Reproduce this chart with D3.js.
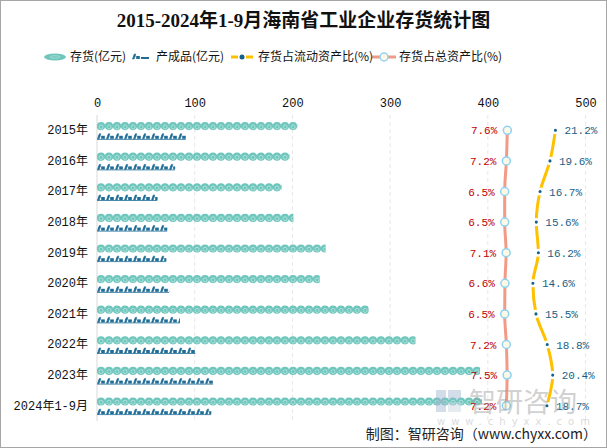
<!DOCTYPE html>
<html>
<head>
<meta charset="utf-8">
<script src="https://cdn.jsdelivr.net/npm/d3@7"></script>
<style>
  body { margin: 0; background: #fff; }
  text { font-family: "Liberation Mono", "Noto Sans CJK SC", monospace; }
</style>
</head>
<body>
<div id="chart"></div>
<script>
//-- data
const categories = ["2015年", "2016年", "2017年", "2018年", "2019年", "2020年", "2021年", "2022年", "2023年", "2024年1-9月"];
const inventory = [205, 197, 189, 201, 234, 228, 278, 326, 392, 394]; // 存货(亿元)
const finished = [91, 80, 62, 72, 71, 74, 85, 101, 119, 117]; // 产成品(亿元)
const currentRatio = [21.2, 19.6, 16.7, 15.6, 16.2, 14.6, 15.5, 18.8, 20.4, 18.7]; // 存货占流动资产比(%)
const totalRatio = [7.6, 7.2, 6.5, 6.5, 7.1, 6.6, 6.5, 7.2, 7.5, 7.2]; // 存货占总资产比(%)
const xTicks = [0, 100, 200, 300, 400, 500];
const legendNames = ["存货(亿元)", "产成品(亿元)", "存货占流动资产比(%)", "存货占总资产比(%)"];

//-- dimensions
const width = 607, height = 448;
const plot = { left: 97, right: 585.5, top: 115, bottom: 421 };

//-- colours
const teal = "#6fc6bd", tealLight = "#b4e4df", iconBlue = "#1f6c96";
const yellow = "#ffc000", salmon = "#f19b86", dotBlue = "#14628c";
const redLabel = "#c00000", blueLabel = "#1b5f86";

const svg = d3.select("#chart").append("svg")
  .attr("width", width).attr("height", height);

//-- scales
const x = d3.scaleLinear().domain([0, 500]).range([plot.left, plot.right]);
const y = d3.scaleBand().domain(categories).range([plot.top, plot.bottom]);
const bw = y.bandwidth();
const xCurrent = d3.scaleLinear().domain([0, 30]).range([483, plot.right]);
const xTotal = d3.scaleLinear().domain([0, 40]).range([489, plot.right]);

//-- title
svg.append("text")
  .attr("x", width / 2).attr("y", 27)
  .attr("text-anchor", "middle")
  .style("font-family", "'Liberation Serif', 'Noto Sans CJK SC', serif")
  .style("font-size", "19px").style("font-weight", "bold").attr("fill", "#111")
  .text("2015-2024年1-9月海南省工业企业存货统计图");

//-- grid
svg.append("g").selectAll("line")
  .data(xTicks.slice(1)).join("line")
  .attr("x1", (d) => x(d)).attr("x2", (d) => x(d))
  .attr("y1", plot.top).attr("y2", plot.bottom)
  .attr("stroke", "#e8e8e8").attr("stroke-dasharray", "4,3");
svg.append("line")
  .attr("x1", x(0)).attr("x2", x(0)).attr("y1", plot.top).attr("y2", plot.bottom)
  .attr("stroke", "#d9d9d9");

//-- axes
const xAxis = svg.append("g")
  .attr("transform", `translate(0,107)`)
  .call(d3.axisTop(x).tickValues(xTicks).tickSize(0).tickPadding(0));
xAxis.select(".domain").remove();
xAxis.selectAll("text").style("font-size", "12px").attr("fill", "#111")
  .style("font-family", "'Liberation Mono', monospace");

const yAxis = svg.append("g")
  .attr("transform", `translate(${plot.left},0)`)
  .call(d3.axisLeft(y).tickSize(0).tickPadding(9));
yAxis.select(".domain").remove();
yAxis.selectAll("text").style("font-size", "12px").attr("fill", "#111");

//-- symbols
function coin(g, cx, cy, r) {
  g.append("circle").attr("cx", cx).attr("cy", cy).attr("r", r).attr("fill", teal);
  g.append("path")
    .attr("d", `M${cx - r * 0.5},${cy + r * 0.2} a${r * 0.5},${r * 0.5} 0 1 1 ${r},0 a${r * 0.45},${r * 0.45} 0 0 1 -${r * 0.9},0.2`)
    .attr("fill", "none").attr("stroke", tealLight).attr("stroke-width", 0.9);
}
function icon(g, ix, iy) {
  g.append("path")
    .attr("d", `M${ix + 0.5},${iy + 5} L${ix + 2.3},${iy} L${ix + 3.8},${iy} L${ix + 2.2},${iy + 5} Z M${ix + 1},${iy + 2.2} L${ix + 3.6},${iy + 2.2}`)
    .attr("fill", iconBlue).attr("stroke", iconBlue).attr("stroke-width", 0.6);
  g.append("rect").attr("x", ix + 4.2).attr("y", iy + 2).attr("width", 3.6).attr("height", 3)
    .attr("fill", iconBlue);
}

//-- bars
const defs = svg.append("defs");
categories.forEach((c, i) => {
  const cy = y(c) + bw / 2;
  // inventory coins
  const w1 = x(inventory[i]) - x(0);
  defs.append("clipPath").attr("id", "clipA" + i)
    .append("rect").attr("x", x(0)).attr("y", cy - 9).attr("width", w1).attr("height", 10);
  const gA = svg.append("g").attr("clip-path", `url(#clipA${i})`);
  const step = 8;
  for (let k = 0; k * step < w1; k++) coin(gA, x(0) + step / 2 + k * step, cy - 4.2, 4.1);
  // finished goods icons
  const w2 = x(finished[i]) - x(0);
  defs.append("clipPath").attr("id", "clipB" + i)
    .append("rect").attr("x", x(0)).attr("y", cy + 2).attr("width", w2).attr("height", 8);
  const gB = svg.append("g").attr("clip-path", `url(#clipB${i})`);
  for (let k = 0; k * 9 < w2; k++) icon(gB, x(0) + k * 9, cy + 3.5);
  gB.append("rect").attr("x", x(0)).attr("y", cy + 8.6).attr("width", w2).attr("height", 0.8)
    .attr("fill", iconBlue);
});

//-- lines
const yc = (i) => y(categories[i]) + bw / 2;
const totalLine = d3.line().x((d) => xTotal(d)).y((d, i) => yc(i)).curve(d3.curveMonotoneY);
const currentLine = d3.line().x((d) => xCurrent(d)).y((d, i) => yc(i)).curve(d3.curveMonotoneY);

svg.append("path").datum(totalRatio).attr("d", totalLine)
  .attr("fill", "none").attr("stroke", salmon).attr("stroke-width", 3);
svg.append("path").datum(currentRatio).attr("d", currentLine)
  .attr("fill", "none").attr("stroke", yellow).attr("stroke-width", 3);

svg.append("g").selectAll("circle").data(totalRatio).join("circle")
  .attr("cx", (d) => xTotal(d)).attr("cy", (d, i) => yc(i)).attr("r", 4)
  .attr("fill", "#fdf9e6").attr("stroke", "#8fd3f2").attr("stroke-width", 1.5);
svg.append("g").selectAll("circle").data(currentRatio).join("circle")
  .attr("cx", (d) => xCurrent(d)).attr("cy", (d, i) => yc(i)).attr("r", 2.8)
  .attr("fill", dotBlue).attr("stroke", "#fff").attr("stroke-width", 2.5);

svg.append("g").selectAll("text").data(totalRatio).join("text")
  .attr("x", (d) => xTotal(d) - 10).attr("y", (d, i) => yc(i) + 4)
  .attr("text-anchor", "end").style("font-size", "11px").attr("fill", redLabel)
  .text((d) => d.toFixed(1) + "%");
svg.append("g").selectAll("text").data(currentRatio).join("text")
  .attr("x", (d) => xCurrent(d) + 9).attr("y", (d, i) => yc(i) + 4)
  .style("font-size", "11px").attr("fill", blueLabel)
  .text((d) => d.toFixed(1) + "%");

//-- legend
const ly = 57;
const legend = svg.append("g");
legend.append("ellipse").attr("cx", 55).attr("cy", ly).attr("rx", 11).attr("ry", 3.5).attr("fill", teal);
legend.append("ellipse").attr("cx", 55).attr("cy", ly).attr("rx", 5).attr("ry", 1.2)
  .attr("fill", "none").attr("stroke", tealLight).attr("stroke-width", 0.7);
icon(legend, 132, ly - 3);
legend.append("rect").attr("x", 141).attr("y", ly).attr("width", 8).attr("height", 2).attr("fill", iconBlue);
legend.append("line").attr("x1", 231).attr("x2", 253).attr("y1", ly).attr("y2", ly)
  .attr("stroke", yellow).attr("stroke-width", 3).attr("stroke-dasharray", "7,8");
legend.append("circle").attr("cx", 242).attr("cy", ly).attr("r", 2.5).attr("fill", dotBlue);
legend.append("line").attr("x1", 372).attr("x2", 396).attr("y1", ly).attr("y2", ly)
  .attr("stroke", salmon).attr("stroke-width", 3);
legend.append("circle").attr("cx", 384).attr("cy", ly).attr("r", 4)
  .attr("fill", "#fdf9e6").attr("stroke", "#8fd3f2").attr("stroke-width", 1.5);
[70, 156, 258, 399].forEach((lx, i) => {
  legend.append("text").attr("x", lx).attr("y", ly + 4)
    .style("font-size", "12px").style("font-family", "'Noto Sans CJK SC', sans-serif")
    .attr("fill", "#111").text(legendNames[i]);
});

//-- watermark
const wm = svg.append("g").attr("opacity", 0.45);
wm.append("rect").attr("x", 436).attr("y", 390).attr("width", 10).attr("height", 22).attr("fill", "#9fb3cf");
wm.append("rect").attr("x", 448).attr("y", 390).attr("width", 13).attr("height", 9).attr("fill", "#9fb3cf");
wm.append("rect").attr("x", 448).attr("y", 402).attr("width", 13).attr("height", 10).attr("fill", "#c9d4e4");
wm.append("text").attr("x", 469).attr("y", 412)
  .style("font-family", "'Noto Sans CJK SC', sans-serif").style("font-size", "27px")
  .attr("fill", "#9a9a9a").text("智研咨询");
wm.append("text").attr("x", 437).attr("y", 425)
  .style("font-family", "'DejaVu Sans', sans-serif").style("font-size", "10px")
  .style("letter-spacing", "6px").attr("fill", "#b0b0b0").text("www.chyxx.com");

//-- source
svg.append("text").attr("x", 597).attr("y", 439).attr("text-anchor", "end")
  .style("font-family", "'Noto Sans CJK SC', sans-serif").style("font-size", "14px")
  .attr("fill", "#222").text("制图：智研咨询（www.chyxx.com）");

//-- frame
svg.append("rect").attr("x", 0.5).attr("y", 0.5).attr("width", width - 1).attr("height", height - 1)
  .attr("fill", "none").attr("stroke", "#a6a6a6");
</script>
</body>
</html>
